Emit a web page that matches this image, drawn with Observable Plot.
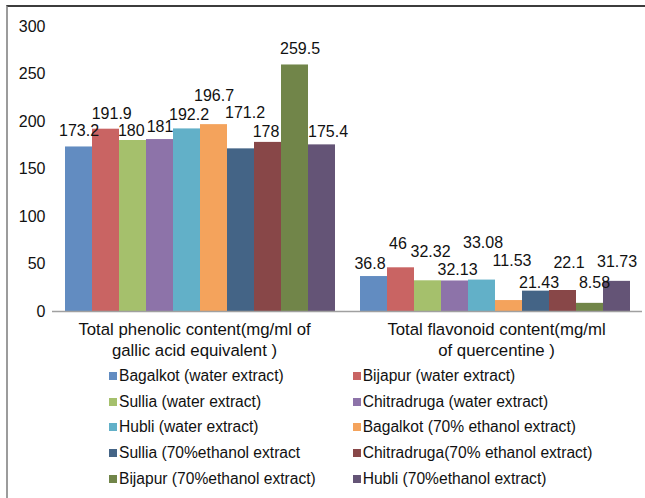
<!DOCTYPE html>
<html><head><meta charset="utf-8">
<script src="https://cdn.jsdelivr.net/npm/d3@7"></script>
<script src="https://cdn.jsdelivr.net/npm/@observablehq/plot@0.6"></script>
<style>
html,body{margin:0;padding:0;background:#fff;}
body{width:645px;height:498px;position:relative;overflow:hidden;font-family:"Liberation Sans",Arial,sans-serif;color:#111;}
#frame{position:absolute;left:6px;top:5px;width:645px;height:500px;border-top:2px solid #3c3c3c;border-left:2px solid #9c9c9c;pointer-events:none;}
#chart{position:absolute;left:0;top:0;}
#legend{position:absolute;left:109px;top:363px;display:grid;grid-template-columns:243.7px 280px;font-size:15.6px;}
.item{display:flex;align-items:center;height:25.8px;white-space:nowrap;}
.sw{width:8px;height:8px;margin-right:2px;flex:none;}
</style></head><body>
<div id="chart"></div><div id="legend"></div><div id="frame"></div>
<script>
const categories = [
  "Total phenolic content(mg/ml of\ngallic acid equivalent )",
  "Total flavonoid content(mg/ml\nof quercentine )"
];
const series = [
  "Bagalkot (water extract)",
  "Bijapur (water extract)",
  "Sullia (water extract)",
  "Chitradruga (water extract)",
  "Hubli (water extract)",
  "Bagalkot (70% ethanol extract)",
  "Sullia (70%ethanol extract",
  "Chitradruga(70% ethanol extract)",
  "Bijapur (70%ethanol extract)",
  "Hubli (70%ethanol extract)"
];
const phenolic = [173.2, 191.9, 180, 181, 192.2, 196.7, 171.2, 178, 259.5, 175.4];
const flavonoid = [36.8, 46, 32.32, 32.13, 33.08, 11.53, 21.43, 22.1, 8.58, 31.73];
const colors = ["#628cc1", "#c96463", "#a5c06c", "#8d73a9", "#62b0c8", "#f4a35c", "#446486", "#884748", "#718549", "#645476"];
const yTicks = [0, 50, 100, 150, 200, 250, 300];

// label nudges (px) mimicking the staggered data labels of the original
const labelRise = [
  [16, 15.7, 10, 12.3, 14, 29, 36.3, 10.3, 15.7, 13.3],
  [13, 24, 29, 11, 37, 40, 8, 28, 20, 19]
];
const labelShift = [
  [0, 5.7, -1.7, 0, 2, 0, 4, -2, 5, 6],
  [-4, -3, 2.5, 2.5, 1, 3, 3, 6, 4.5, 0]
];
const categoryShift = [-5.5, 1.5];

const valuesByCat = [phenolic, flavonoid];
const rows = categories.flatMap((c, ci) => series.map((s, si) => ({cat: c, series: s, value: valuesByCat[ci][si], ci, si})));

const plot = Plot.plot({
  width: 645, height: 362,
  marginTop: 26, marginBottom: 51, marginLeft: 52, marginRight: 3,
  style: {fontFamily: '"Liberation Sans", Arial, sans-serif', fontSize: "16px", color: "#111", background: "transparent", overflow: "visible"},
  fx: {domain: categories, padding: 0, axis: null, label: null},
  x: {domain: series, paddingInner: 0, paddingOuter: 0.325, axis: null},
  y: {domain: [0, 300], axis: null},
  color: {domain: series, range: colors},
  marks: [
    Plot.barY(rows, {fx: "cat", x: "series", y: "value", fill: "series"}),
    Plot.ruleY([0], {stroke: "#a0a0a0", strokeWidth: 1.5}),
    Plot.axisY({ticks: yTicks, tickSize: 0, tickPadding: 7, label: null, line: true, stroke: "#a0a0a0"}),
    ...rows.map(r => Plot.text([r], {fx: "cat", x: "series", y: "value", text: d => String(d.value), dy: -labelRise[r.ci][r.si], dx: labelShift[r.ci][r.si]})),
    ...categories.map((c, ci) => Plot.text([c], {fx: d => d, text: d => d, frameAnchor: "bottom", lineAnchor: "top", dy: 8.5, dx: categoryShift[ci], fontSize: 16.8, lineHeight: 1.24}))
  ]
});
document.getElementById("chart").appendChild(plot);

const legend = document.getElementById("legend");
series.forEach((s, i) => {
  const item = document.createElement("div");
  item.className = "item";
  const sw = document.createElement("span");
  sw.className = "sw";
  sw.style.background = colors[i];
  const t = document.createElement("span");
  t.textContent = s;
  item.appendChild(sw); item.appendChild(t);
  legend.appendChild(item);
});
</script>
</body></html>
